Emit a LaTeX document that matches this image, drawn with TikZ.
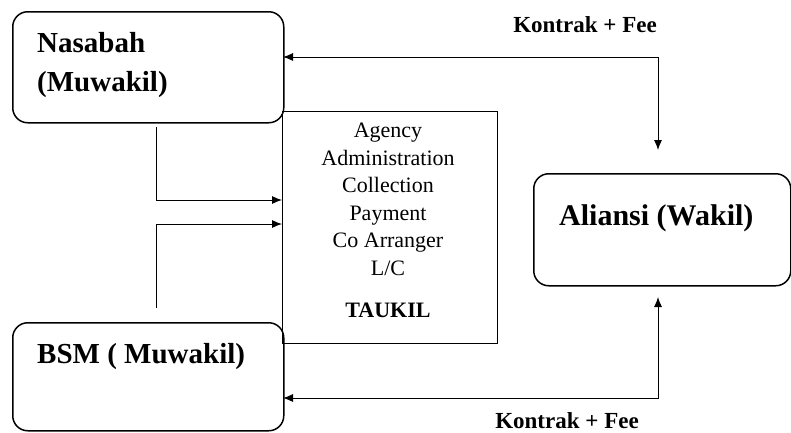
\documentclass[tikz,border=0pt]{standalone}
\usepackage{fontspec}
\setmainfont{Liberation Serif}
\usetikzlibrary{arrows.meta}
\begin{document}
\begin{tikzpicture}[x=1pt,y=-1pt,
  rbox/.style={draw, line width=1.5pt, rounded corners=15pt, inner sep=0, anchor=north west},
  tbox/.style={draw, line width=0.9pt, inner sep=0, anchor=north west},
  conn/.style={line width=0.9pt, -{Latex[length=10pt,width=8pt]}},
  dconn/.style={line width=0.9pt, {Latex[length=10pt,width=8pt]}-{Latex[length=10pt,width=8pt]}},
  big/.style={font=\bfseries\fontsize{29}{39}\selectfont, inner sep=0},
  lbl/.style={font=\bfseries\fontsize{23}{27}\selectfont, inner sep=0}]
\useasboundingbox (0,0) rectangle (791,432);
% boxes
\node[tbox, minimum width=215pt, minimum height=232pt] (tau) at (282,111) {};
\node[rbox, minimum width=271pt, minimum height=111pt] (nas) at (12,11) {};
\node[rbox, minimum width=271pt, minimum height=108pt] (bsm) at (12,322) {};
\node[rbox, minimum width=257pt, minimum height=112pt] (ali) at (533,173) {};
% texts
\node[big, anchor=north west, align=left] (nastxt) at (37,32) {Nasabah\\(Muwakil)};
\node[big, anchor=base west] (bsmtxt) at (37,363) {BSM ( Muwakil)};
\node[big, anchor=base west, font=\bfseries\fontsize{30}{36}\selectfont] (alitxt) at (559,225) {Aliansi (Wakil)};
\node[inner sep=0, anchor=north, align=center, font=\fontsize{22}{27.5}\selectfont] (tautxt) at (388,123)
  {Agency\\Administration\\Collection\\Payment\\Co Arranger\\L/C\\[15pt]\textbf{TAUKIL}};
\node[lbl, anchor=base] (k1) at (585,32) {Kontrak + Fee};
\node[lbl, anchor=base] (k2) at (567,428) {Kontrak + Fee};
% connector points
\coordinate (nd) at (156,127);
\coordinate (t1) at (282,200);
\coordinate (bu) at (156,308);
\coordinate (t2) at (282,224);
\coordinate (nr) at (283,57);
\coordinate (at) at (658,150);
\coordinate (br) at (283,398);
\coordinate (ab) at (658,297);
% connectors
\draw[conn] (nd) |- (t1);
\draw[conn] (bu) |- (t2);
\draw[dconn] (nr) -| (at);
\draw[dconn] (br) -| (ab);
\end{tikzpicture}
\end{document}
